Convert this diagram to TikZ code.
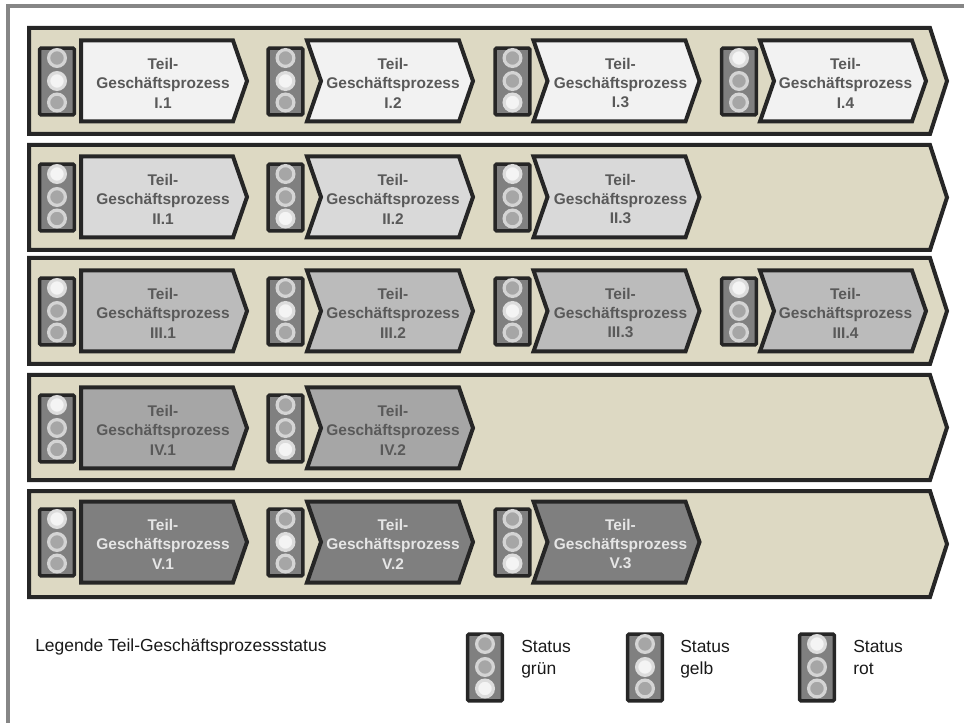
\documentclass[tikz,border=0pt]{standalone}
\usepackage{fontspec}
\setmainfont{Liberation Sans}
\usepackage{xcolor}
\usepackage{tikz}
\definecolor{framegray}{HTML}{868686}
\definecolor{bandbeige}{HTML}{DDD9C3}
\definecolor{darkline}{HTML}{262626}
\definecolor{ampelgray}{HTML}{808080}
\definecolor{tpone}{HTML}{F2F2F2}
\definecolor{tptwo}{HTML}{D9D9D9}
\definecolor{tpthree}{HTML}{BBBBBB}
\definecolor{tpfour}{HTML}{A6A6A6}
\definecolor{tpfive}{HTML}{7F7F7F}
\definecolor{tpdarktext}{HTML}{595959}
\definecolor{tplighttext}{HTML}{E6E6E6}
\definecolor{lampring}{HTML}{D4D4D4}
\definecolor{lampcore}{HTML}{A6A6A6}
\definecolor{lampringon}{HTML}{DCDCDC}
\definecolor{lampcoreon}{HTML}{F4F4F4}
\tikzset{
  rowband/.style={draw=darkline, fill=bandbeige, line width=3pt, miter limit=10},
  tpshape/.style={draw=darkline, line width=3pt, miter limit=10},
  tplabel/.style={align=center, inner sep=0pt, font=\fontsize{11.6}{14.6}\selectfont\bfseries},
  ampelbox/.style={draw=darkline, fill=ampelgray, line width=2.6pt, rounded corners=1pt, minimum width=26pt, minimum height=50pt, inner sep=0pt},
  lampoff/.style={circle, draw=lampring, fill=lampcore, line width=2.4pt, minimum size=12.6pt, inner sep=0pt},
  lampon/.style={circle, draw=lampringon, fill=lampcoreon, line width=2.4pt, minimum size=12.6pt, inner sep=0pt},
  legendtext/.style={anchor=west, align=left, inner sep=0pt, text=black!90, font=\fontsize{13.1}{16.2}\selectfont}
}
% traffic light: name, x, y, number of the lit lamp
\newcommand{\ampel}[4]{
  \node[ampelbox] (#1) at (#2,#3+0.5) {};
  \foreach \l/\dy in {1/-23,2/0,3/21.5}{
    \ifnum\l=#4 \def\lampstyle{lampon}\else\def\lampstyle{lampoff}\fi
    \node[\lampstyle] (#1-\l) at (#2,#3+\dy) {};
  }
}
\begin{document}
\begin{tikzpicture}[x=0.75pt, y=-0.75pt]
  \useasboundingbox (0,0) rectangle (964,723);
  \draw[framegray, line width=3pt] (8,723)--(8,6)--(964,6);
  \foreach \rid/\rtop/\rbot/\rmid/\rfill/\rtext/\rlits in {
    I/28/134/81/tpone/tpdarktext/{2,2,3,1},
    II/145/250/197/tptwo/tpdarktext/{1,3,1},
    III/258/364/311/tpthree/tpdarktext/{1,2,2,1},
    IV/375/480/428/tpfour/tpdarktext/{1,3},
    V/491/597/542/tpfive/tplighttext/{1,2,3}}{
    \pgfmathsetmacro{\rtip}{(\rtop+\rbot)/2}
    \draw[rowband] (29,\rtop)--(930,\rtop)--(947,\rtip)--(930,\rbot)--(29,\rbot)--cycle;
    \foreach \lit [count=\c] in \rlits {
      \pgfmathsetmacro{\ax}{{57,285.5,512.5,739}[\c-1]}
      \pgfmathsetmacro{\tpx}{{81,307,533.5,760}[\c-1]}
      \pgfmathsetmacro{\lx}{{163,393,620.5,845.5}[\c-1]}
      \pgfmathsetmacro{\tpnotch}{\c==1 ? 0 : 14}
      \ampel{amp\rid\c}{\ax}{\rmid}{\lit}
      \draw[tpshape, fill=\rfill] (\tpx,\rmid-40.5)--({\tpx+152},\rmid-40.5)--({\tpx+166},\rmid)--({\tpx+152},\rmid+40.5)--(\tpx,\rmid+40.5)--({\tpx+\tpnotch},\rmid)--cycle;
      \node[tplabel, text=\rtext] (tp\rid\c) at (\lx,\rmid+2) {Teil-\\Geschäftsprozess\\\rid.\c};
    }
  }
  \node[legendtext] (legtitle) at (35,647) {Legende Teil-Geschäftsprozessstatus};
  \ampel{leggruen}{485}{667}{3}
  \ampel{leggelb}{645}{667}{2}
  \ampel{legrot}{817}{667}{1}
  \node[legendtext, anchor=north west] (txtgruen) at (521,640) {Status\\grün};
  \node[legendtext, anchor=north west] (txtgelb) at (680,640) {Status\\gelb};
  \node[legendtext, anchor=north west] (txtrot) at (853,640) {Status\\rot};
\end{tikzpicture}
\end{document}
